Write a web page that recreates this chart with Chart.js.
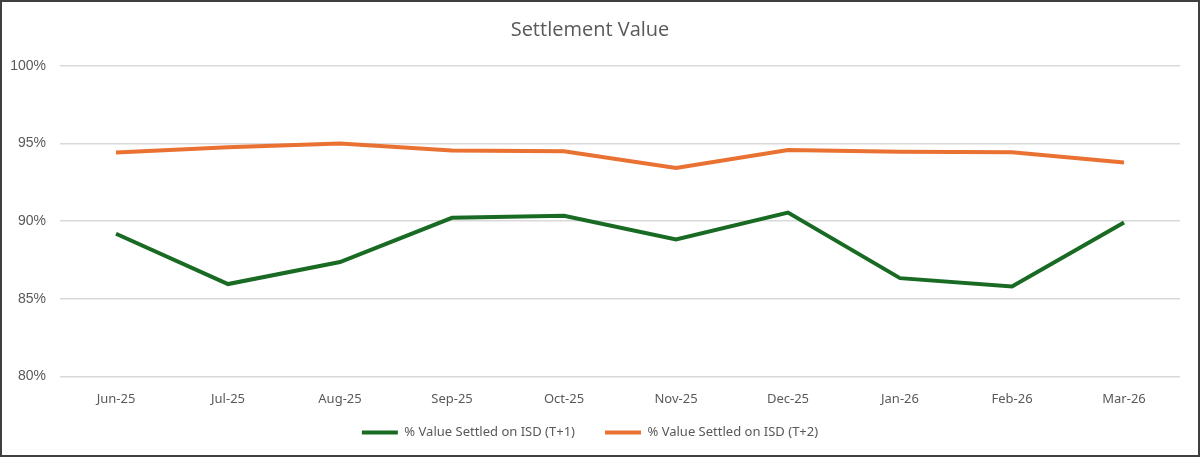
<!DOCTYPE html>
<html>
<head>
<meta charset="utf-8">
<script src="https://cdn.jsdelivr.net/npm/chart.js@4"></script>
<style>
  body { margin: 0; background: #fff; }
  #wrap { width: 1200px; height: 457px; position: relative; }
</style>
</head>
<body>
<div id="wrap"><canvas id="chart"></canvas></div>
<script>
const months = ["Jun-25", "Jul-25", "Aug-25", "Sep-25", "Oct-25", "Nov-25", "Dec-25", "Jan-26", "Feb-26", "Mar-26"];
const settledT1 = [89.19, 85.95, 87.37, 90.22, 90.35, 88.82, 90.56, 86.33, 85.80, 89.92];
const settledT2 = [94.42, 94.76, 95.0, 94.56, 94.51, 93.43, 94.59, 94.47, 94.45, 93.78];
const yTicks = [80, 85, 90, 95, 100];

const textColor = "#595959";
const legendGap = 30;
const legendPadY = 4;

// frame round the whole picture
const frame = {
  id: "frame",
  afterDraw(chart) {
    const { ctx, width, height } = chart;
    ctx.save();
    ctx.strokeStyle = "#404040";
    ctx.lineWidth = 2;
    ctx.strokeRect(1, 1, width - 2, height - 2);
    ctx.restore();
  },
};

// legend padding is also the gap between items: keep the wide gap, but
// take the extra height back out so the plot keeps its size
const tightLegend = {
  id: "tightLegend",
  afterInit(chart) {
    const legend = chart.legend;
    const extra = legendGap - legendPadY;
    const fit = legend.fit;
    legend.fit = function () {
      fit.call(this);
      this.height -= extra;
    };
    const draw = legend.draw;
    legend.draw = function () {
      const top = this.top;
      this.top -= extra;
      draw.call(this);
      this.top = top;
    };
  },
};

const ctx = document.getElementById("chart").getContext("2d");

window.chart = new Chart(ctx, {
  type: "line",
  data: {
    labels: months,
    datasets: [
      {
        label: "% Value Settled on ISD (T+1)",
        data: settledT1,
        borderColor: "#196B24",
        backgroundColor: "#196B24",
        borderWidth: 4,
        pointRadius: 0,
        tension: 0,
      },
      {
        label: "% Value Settled on ISD (T+2)",
        data: settledT2,
        borderColor: "#E97132",
        backgroundColor: "#E97132",
        borderWidth: 4,
        pointRadius: 0,
        tension: 0,
      },
    ],
  },
  options: {
    responsive: true,
    maintainAspectRatio: false,
    animation: false,
    layout: { padding: { left: 0, right: 20, top: 0, bottom: 8 } },
    plugins: {
      title: {
        display: true,
        text: "Settlement Value",
        color: textColor,
        font: { family: "'Open Sans', 'Liberation Sans', sans-serif", size: 20, weight: "normal" },
        padding: { top: 18, bottom: 24 },
      },
      legend: {
        position: "bottom",
        labels: {
          usePointStyle: true,
          pointStyleWidth: 36,
          pointStyle: "line",
          color: textColor,
          font: { family: "'Noto Sans', 'Liberation Sans', sans-serif", size: 13 },
          padding: legendGap,
        },
      },
      tooltip: { enabled: false },
    },
    scales: {
      x: {
        offset: true,
        grid: { display: false, drawTicks: false },
        border: { display: false },
        ticks: {
          color: textColor,
          padding: 15,
          maxRotation: 0,
          font: { family: "'Noto Sans', 'Liberation Sans', sans-serif", size: 13 },
        },
      },
      y: {
        min: 80,
        max: 100,
        afterFit: (scale) => { scale.width = 60; },
        afterBuildTicks: (scale) => { scale.ticks = yTicks.map((v) => ({ value: v })); },
        grid: { color: "#D9D9D9", lineWidth: 1.5, drawTicks: false },
        border: { display: false },
        ticks: {
          color: textColor,
          padding: 14,
          font: { family: "'Liberation Sans', sans-serif", size: 14 },
          callback: (v) => v + "%",
        },
      },
    },
  },
  plugins: [frame, tightLegend],
});
</script>
</body>
</html>
